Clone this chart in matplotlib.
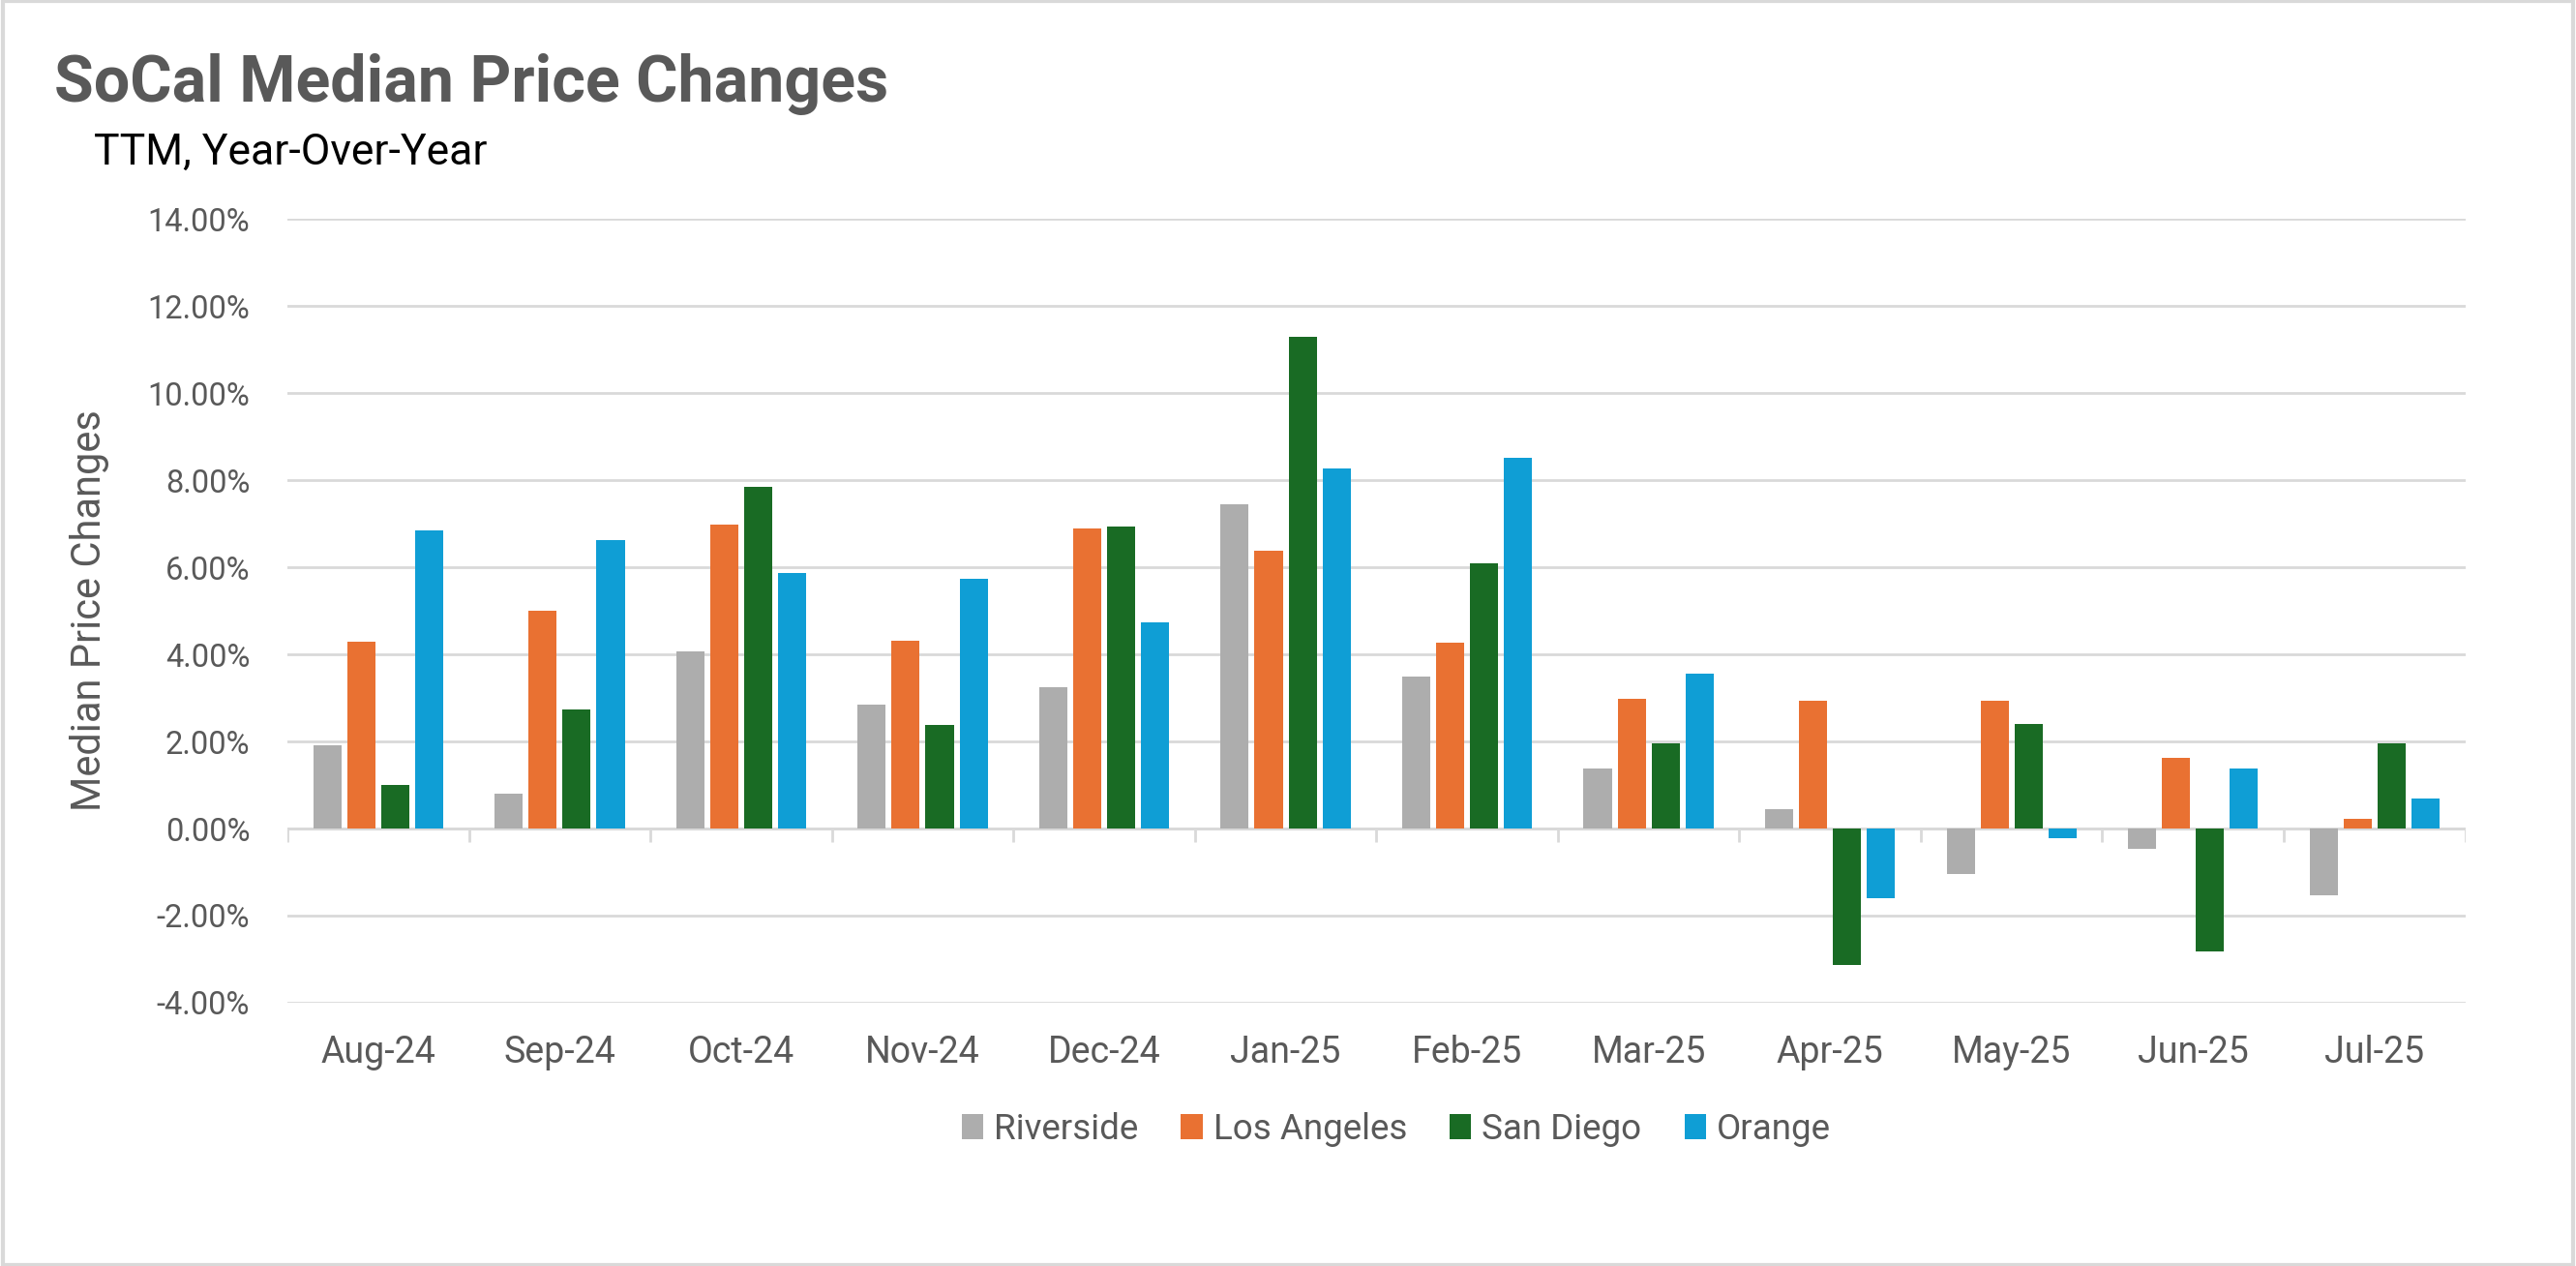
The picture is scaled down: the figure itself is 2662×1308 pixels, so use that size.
import numpy as np
import matplotlib
matplotlib.use("Agg")
import matplotlib.pyplot as plt
from matplotlib.patches import Rectangle

# Data (percent, year-over-year)
months = ["Aug-24", "Sep-24", "Oct-24", "Nov-24", "Dec-24", "Jan-25",
          "Feb-25", "Mar-25", "Apr-25", "May-25", "Jun-25", "Jul-25"]
riverside = [1.92, 0.81, 4.07, 2.85, 3.25, 7.45, 3.48, 1.38, 0.45, -1.04, -0.47, -1.53]
los_angeles = [4.28, 5.01, 6.98, 4.32, 6.89, 6.38, 4.27, 2.98, 2.93, 2.93, 1.62, 0.23]
san_diego = [0.99, 2.73, 7.85, 2.39, 6.94, 11.30, 6.09, 1.95, -3.14, 2.41, -2.82, 1.96]
orange = [6.85, 6.62, 5.86, 5.74, 4.74, 8.28, 8.51, 3.55, -1.60, -0.23, 1.37, 0.70]

series = ["Riverside", "Los Angeles", "San Diego", "Orange"]
colors = ["#ADADAD", "#E97132", "#196B24", "#0F9ED5"]
yticks = [-4, -2, 0, 2, 4, 6, 8, 10, 12, 14]

plt.rcParams['font.family'] = ['Roboto', 'DejaVu Sans']

fig = plt.figure(figsize=(26.62, 13.08), dpi=100)
ax = fig.add_axes([0.1116, 0.208, 0.8454, 0.619])

x = np.arange(len(months))
bar_w = 0.155
step = 0.187
for i, (name, vals) in enumerate(zip(series, [riverside, los_angeles, san_diego, orange])):
    ax.bar(x + (i - 1.5) * step, vals, width=bar_w, color=colors[i], label=name, zorder=3)

ax.set_xlim(-0.5, len(months) - 0.5)
ax.set_ylim(-4, 14)
ax.set_yticks(yticks)
ax.set_yticklabels([f"{v:.2f}%" for v in yticks])
ax.grid(axis='y', color='#D9D9D9', linewidth=2, zorder=0)
ax.set_axisbelow(True)
for s in ax.spines.values():
    s.set_visible(False)

# category axis along zero with boundary tick marks
ax.axhline(0, color='#D9D9D9', linewidth=2, zorder=2)
ax.vlines(np.arange(-0.5, len(months)), -0.32, 0, color='#D9D9D9', linewidth=2, zorder=2)

ax.set_xticks(x)
ax.set_xticklabels(months)
ax.tick_params(axis='x', length=0, pad=24, labelsize=27, labelcolor='#595959')
ax.tick_params(axis='y', length=0, pad=28, labelsize=23.5, labelcolor='#595959')

ax.set_ylabel("Median Price Changes", fontsize=30, color='#595959')
ax.yaxis.set_label_coords(-0.082, 0.5)

fig.text(0.021, 0.92, "SoCal Median Price Changes", fontsize=47.8, fontweight='bold',
         color='#595959', va='baseline')
fig.text(0.0364, 0.870, "TTM, Year-Over-Year", fontsize=32, color='black', va='baseline')

ax.legend(loc='center', bbox_to_anchor=(0.542, 0.108), bbox_transform=fig.transFigure,
          ncol=4, frameon=False, fontsize=26.5, handlelength=0.6, handleheight=0.7,
          handletextpad=0.3, columnspacing=1.2, labelcolor='#595959')

fig.patches.append(Rectangle((0.001, 0.001), 0.998, 0.998, transform=fig.transFigure,
                             fill=False, edgecolor='#D9D9D9', linewidth=3))

fig.savefig("out.png", dpi=100)
